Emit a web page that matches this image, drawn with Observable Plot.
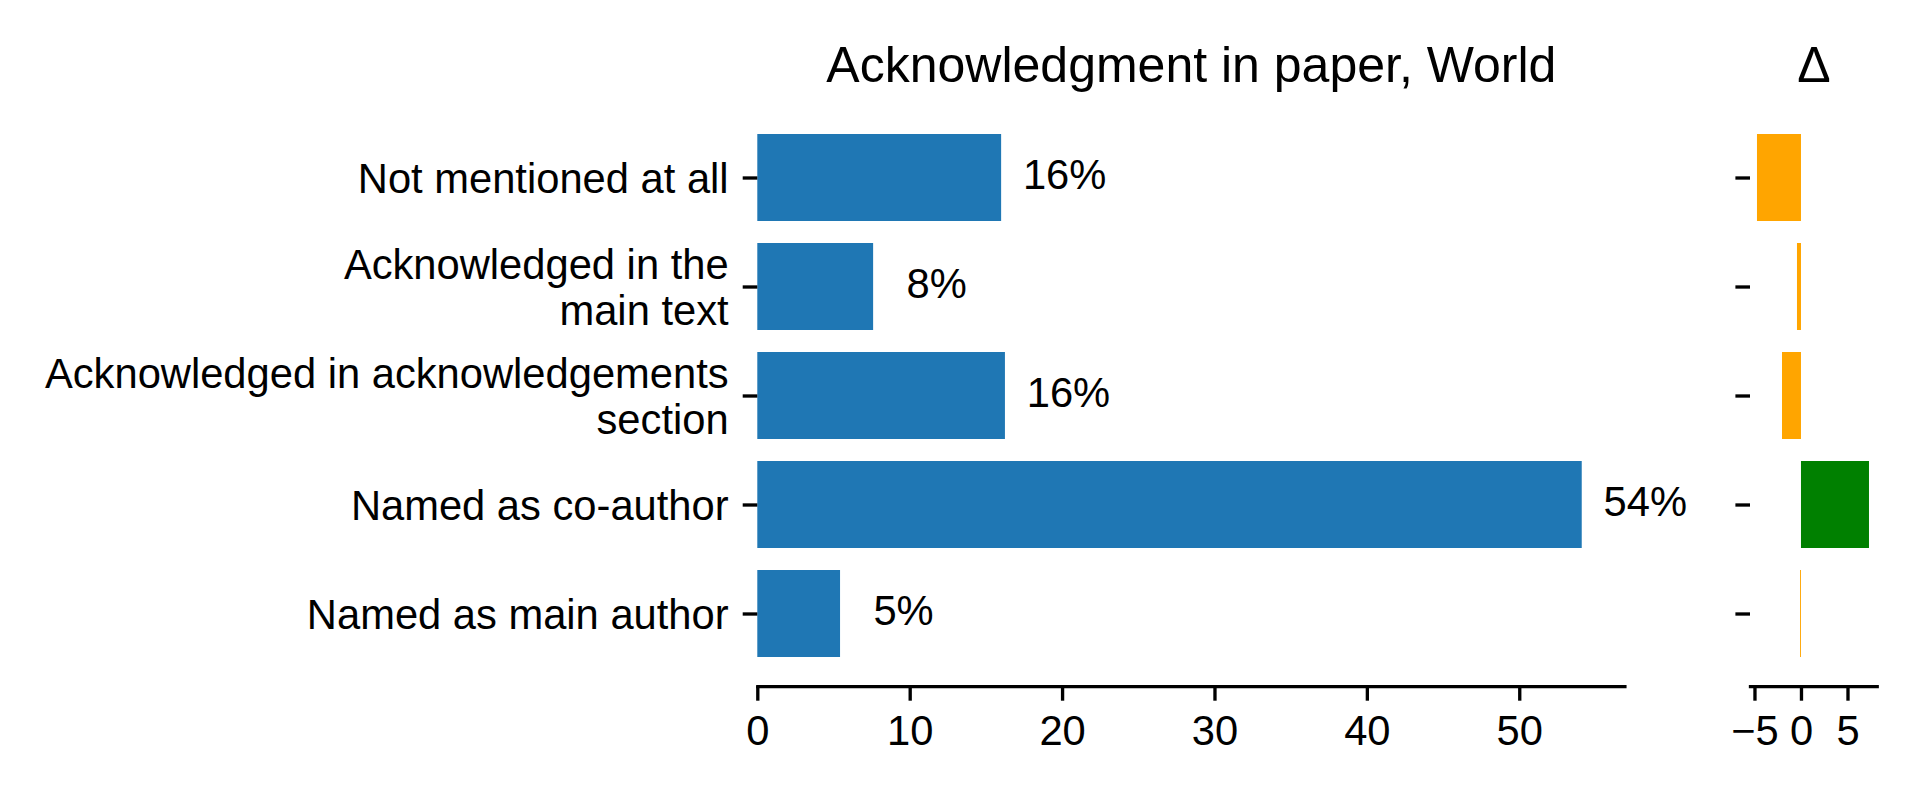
<!DOCTYPE html>
<html><head><meta charset="utf-8">
<script src="https://cdn.jsdelivr.net/npm/d3@7"></script>
<script src="https://cdn.jsdelivr.net/npm/@observablehq/plot@0.6"></script>
<style>
body{margin:0;background:#fff;}
#wrap{position:relative;width:1920px;height:800px;overflow:hidden;background:#fff;}
#wrap svg{position:absolute;top:0;}
</style></head><body><div id="wrap"></div>
<script>
const categories = ["Not mentioned at all", "Acknowledged in the\nmain text", "Acknowledged in acknowledgements\nsection", "Named as co-author", "Named as main author"];
const shares = [16.0, 7.6, 16.25, 54.1, 5.43];
const deltas = [-4.73, -0.43, -2.04, 7.31, -0.1];
const mainTitle = "Acknowledgment in paper, World";
const deltaTitle = "Δ";
const mainTicks = [0, 10, 20, 30, 40, 50];
const deltaTicks = [-5, 0, 5];

const rows = categories.map((c, i) => ({category: c, share: shares[i], delta: deltas[i]}));
const font = '"Liberation Sans", Arial, Helvetica, sans-serif';
const FS = 41.7, LW = 3.33, TK = 14.6;
const yScale = {domain: categories, type: "band", paddingInner: 0.2, paddingOuter: 0.24, align: 0.5};
const style = {fontFamily: font, fontSize: FS + "px", background: "transparent", color: "black", overflow: "visible", maxWidth: "none"};

const main = Plot.plot({
  width: 1700, height: 800,
  marginLeft: 757.3, marginRight: 75.6, marginTop: 105.6, marginBottom: 113.9,
  style,
  x: {domain: [0, 56.9]},
  y: yScale,
  marks: [
    Plot.barX(rows, {x: "share", y: "category", fill: "#1f77b4"}),
    Plot.text(rows, {x: "share", y: "category", text: d => Math.round(d.share) + "%", dx: 63, dy: -2.4, textAnchor: "middle", fontSize: FS, fill: "black"}),
    Plot.axisY({tickSize: TK, tickPadding: TK, strokeWidth: LW, fontSize: FS, lineHeight: 1.12, label: null}),
    Plot.axisX({ticks: mainTicks, tickSize: TK, tickPadding: TK, strokeWidth: LW, fontSize: FS, label: null, tickFormat: d => String(d)}),
    Plot.frame({anchor: "bottom", strokeWidth: LW}),
    Plot.text([mainTitle], {text: d => d, frameAnchor: "top", dy: -24.6, lineAnchor: "bottom", fontSize: 50, fill: "black"})
  ]
});
main.style.left = "0px";

const delta = Plot.plot({
  width: 220, height: 800,
  marginLeft: 50, marginRight: 43.3, marginTop: 105.6, marginBottom: 113.9,
  style,
  x: {domain: [-5.48, 8.14]},
  y: yScale,
  color: {type: "identity"},
  marks: [
    Plot.barX(rows, {x: "delta", y: "category", fill: d => d.delta < 0 ? "orange" : "green"}),
    Plot.axisY({tickSize: TK, strokeWidth: LW, tickFormat: () => "", label: null}),
    Plot.axisX({ticks: deltaTicks, tickSize: TK, tickPadding: TK, strokeWidth: LW, fontSize: FS, label: null}),
    Plot.frame({anchor: "bottom", strokeWidth: LW}),
    Plot.text([deltaTitle], {text: d => d, frameAnchor: "top", dy: -24.6, lineAnchor: "bottom", fontSize: 50, fill: "black"})
  ]
});
delta.style.left = "1700px";

const wrap = document.getElementById("wrap");
wrap.appendChild(main);
wrap.appendChild(delta);
</script>
</body></html>
